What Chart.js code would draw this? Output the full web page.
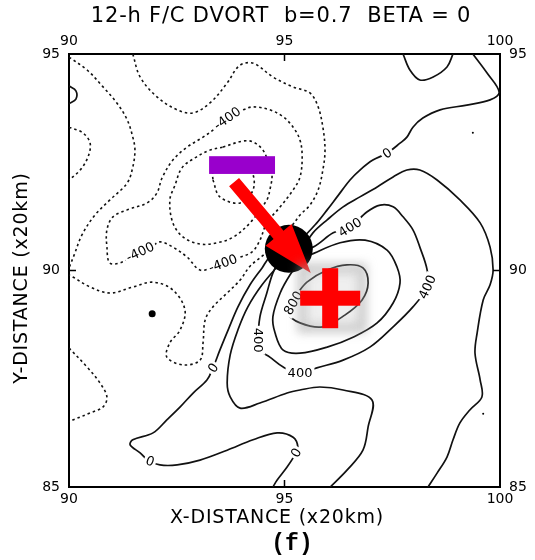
<!DOCTYPE html>
<html><head><meta charset="utf-8">
<script src="https://cdn.jsdelivr.net/npm/chart.js@4.4.1/dist/chart.umd.min.js"></script>
<style>html,body{margin:0;padding:0;background:#fff}canvas{display:block}</style>
</head><body>
<canvas id="c" width="535" height="560"></canvas>
<script>
// ---- axis ranges / ticks ----
const xRange = [90, 100];
const yRange = [85, 95];
const tickStep = 5;

// ---- dashed (negative) contours, [x, y] in grid units ----
const negLeftEdge = [[90.00,94.93],[90.42,94.63],[90.79,94.24],[91.11,93.87],[91.35,93.48],[91.48,93.08],[91.53,92.78],[91.48,92.39],[91.35,92.02],[90.95,91.63],[90.60,91.28],[90.30,90.82],[90.12,90.36],[90.00,90.06]];
const negBump = [[90.00,93.31],[90.32,93.18],[90.49,92.94],[90.44,92.62],[90.26,92.32],[90.00,92.09]];
const negLowerLeft = [[90.00,88.21],[90.42,87.77],[90.72,87.40],[90.88,87.08],[90.79,86.85],[90.49,86.71],[90.09,86.55],[90.00,86.52]];
const negOuter = [[91.48,95.00],[91.65,94.47],[92.04,94.01],[92.51,93.71],[92.88,93.64],[93.27,93.87],[93.67,94.33],[93.90,94.68],[94.08,94.79],[94.32,94.77],[94.73,94.47],[95.20,94.24],[95.59,94.10],[95.78,93.78],[95.89,93.31],[95.94,92.78],[95.89,92.32],[95.78,91.86],[95.59,91.51],[95.36,91.28],[95.13,90.98],[94.80,90.64],[94.48,90.33],[94.20,90.10],[93.97,89.78],[93.67,89.48],[93.34,89.16],[93.16,88.86],[93.11,88.33],[93.04,87.93],[92.65,87.82],[92.27,88.00],[92.34,88.33],[92.58,88.63],[92.69,89.09],[92.41,89.55],[91.95,89.73],[91.48,89.62],[90.95,89.48],[90.49,89.62],[90.09,89.85],[90.00,89.90]];
const neg400 = [[94.04,93.71],[94.27,93.78],[94.66,93.71],[94.97,93.55],[95.20,93.31],[95.36,93.01],[95.41,92.62],[95.36,92.16],[95.20,91.86],[94.90,91.47],[94.59,91.10],[94.43,90.70],[94.25,90.43],[93.97,90.31],[93.57,90.17],[93.34,90.08],[93.04,90.01],[92.74,90.31],[92.41,90.54],[92.11,90.66],[91.88,90.52],[91.65,90.43],[91.25,90.20],[90.95,90.17],[90.88,90.54],[90.88,90.94],[91.02,91.24],[91.35,91.40],[91.81,91.56],[92.04,91.79],[92.16,92.14],[92.41,92.55],[92.74,92.85],[93.11,93.08],[93.43,93.31],[93.67,93.52],[94.04,93.71]];
const neg800 = [[93.57,92.85],[94.04,92.99],[94.27,92.97],[94.50,92.78],[94.62,92.51],[94.71,92.21],[94.66,91.86],[94.59,91.63],[94.20,91.10],[93.81,90.77],[93.43,90.64],[93.04,90.61],[92.65,90.77],[92.41,91.10],[92.34,91.63],[92.46,91.97],[92.62,92.37],[92.92,92.60],[93.27,92.78],[93.57,92.85]];
const neg1200 = [[93.34,92.09],[93.50,91.70],[93.97,91.56],[94.27,91.86],[94.25,92.27],[93.97,92.55],[93.55,92.51],[93.34,92.27],[93.34,92.09]];

// ---- solid (zero / positive) contours ----
const posTiny = [[90.00,94.26],[90.16,94.15],[90.16,93.96],[90.00,93.85]];
const zeroMain = [[99.37,95.00],[99.70,94.56],[99.98,94.12],[99.77,93.94],[99.23,93.82],[98.61,93.71],[98.21,93.52],[97.98,93.31],[97.84,93.08],[97.68,92.94],[97.38,92.71],[97.05,92.55],[96.75,92.32],[96.52,92.09],[96.22,91.70],[95.99,91.40],[95.75,91.10],[95.36,90.70],[94.97,90.43],[94.66,90.31],[94.48,90.06],[94.20,89.67],[93.92,89.16],[93.71,88.67],[93.50,88.16],[93.34,87.75],[93.20,87.47],[92.88,87.17],[92.58,86.85],[92.27,86.55],[91.95,86.25],[91.48,86.09],[91.42,85.97],[91.65,85.79],[91.83,85.62],[92.11,85.51],[92.51,85.51],[93.04,85.62],[93.67,85.85],[94.27,86.09],[94.83,86.25],[95.20,86.15],[95.31,85.92],[95.24,85.74],[95.06,85.46],[94.83,85.16],[94.73,85.00]];
const zeroTop = [[97.75,95.00],[97.91,94.63],[98.14,94.40],[98.45,94.47],[98.77,94.70],[98.91,95.00]];
const posEast = [[95.48,90.59],[95.66,90.87],[95.99,91.17],[96.36,91.47],[96.75,91.70],[97.15,91.93],[97.52,92.16],[97.84,92.32],[98.14,92.32],[98.54,92.09],[99.07,91.63],[99.54,91.10],[99.77,90.54],[99.84,90.01],[99.77,89.67],[99.61,89.32],[99.47,88.56],[99.42,88.09],[99.54,87.47],[99.58,87.08],[99.30,86.78],[99.07,86.48],[98.91,86.09],[98.77,85.69],[98.54,85.32],[98.33,85.00]];
const posSouth = [[94.90,90.17],[94.48,89.67],[94.15,89.16],[93.92,88.63],[93.74,88.05],[93.67,87.40],[93.74,87.08],[93.97,86.82],[94.43,86.94],[95.06,87.17],[95.36,87.24],[95.82,87.31],[96.36,87.24],[97.03,87.01],[96.94,86.39],[96.82,85.85],[96.45,85.39],[96.06,85.00]];
const pos400 = [[95.24,90.47],[95.66,90.54],[96.13,90.87],[96.52,91.00],[96.91,91.35],[97.22,91.51],[97.52,91.47],[97.75,91.24],[97.98,90.94],[98.14,90.54],[98.31,90.01],[98.31,89.62],[97.98,89.16],[97.52,88.70],[96.98,88.23],[96.36,87.93],[95.75,87.75],[95.36,87.63],[94.97,87.77],[94.66,88.00],[94.43,88.16],[94.39,88.39],[94.43,88.93],[94.59,89.48],[94.73,89.94],[94.90,90.24],[95.24,90.47]];
const pos600 = [[95.59,90.36],[96.29,90.64],[96.87,90.70],[97.38,90.47],[97.61,90.08],[97.68,89.71],[97.52,89.25],[97.15,88.79],[96.59,88.46],[95.99,88.23],[95.36,88.09],[94.97,88.16],[94.78,88.56],[94.73,88.93],[94.90,89.48],[95.13,89.90],[95.36,90.20],[95.59,90.36]];
const pos800 = [[95.27,89.43],[95.52,89.73],[95.99,90.01],[96.45,90.13],[96.82,90.06],[96.94,89.71],[96.80,89.32],[96.40,88.97],[95.89,88.70],[95.36,88.79],[95.06,89.02],[95.06,89.25],[95.27,89.43]];

// ---- contour labels ----
const labelText = ['-400','-400','-400','0','400','400','400','400','800','0','0','0'];
const labelX = [93.67,91.65,93.57,97.38,96.52,98.31,95.36,94.39,95.20,93.34,91.88,95.27];
const labelY = [93.52,90.43,90.17,92.71,91.00,89.62,87.63,88.39,89.25,87.75,85.60,85.79];

// ---- isolated dots ----
const dotX = [91.93,99.61,99.37];
const dotY = [89.00,86.69,93.18];

// ---- overlay marks (grid units) ----
const minusBar = {x0:93.25, x1:94.78, y0:92.23, y1:92.64};
const arrowFrom = [93.83,92.04];
const arrowTo = [95.61,89.94];
const centerDot = [95.10,90.50];
const plusAt = [96.06,89.36];

// ===== styles =====
const labelAngle = [-35,-25,-20,-33,-32,-65,0,90,-60,-55,20,-60];
const dotRadius = [3.5,1,1];
const pts = a => a.map(p => ({x:p[0], y:p[1]}));
const dashedSets = [negLeftEdge,negBump,negLowerLeft,negOuter,neg400,neg800,neg1200];
const solidSets = [posTiny,zeroMain,zeroTop,posEast,posSouth,pos400,pos600,pos800];
const datasets = [];
dashedSets.forEach(a => datasets.push({data:pts(a), showLine:true, pointRadius:0, borderColor:'#111', borderWidth:1.6, borderDash:[2.5,3], tension:0.35, fill:false}));
solidSets.forEach(a => datasets.push({data:pts(a), showLine:true, pointRadius:0, borderColor:'#111', borderWidth:1.7, tension:0.35, fill:false}));
dotX.forEach((v,i) => datasets.push({data:[{x:v,y:dotY[i]}], showLine:false, pointRadius:dotRadius[i], pointBackgroundColor:'#000', pointBorderWidth:0}));

const FONT = '"DejaVu Sans", sans-serif';
Chart.defaults.font.family = FONT;

const deco = {
  id:'deco',
  afterDatasetsDraw(chart){
    const {ctx, scales:{x, y}} = chart;
    const px = v => x.getPixelForValue(v), py = v => y.getPixelForValue(v);
    const ca = chart.chartArea;
    ctx.save();
    // inward tick marks
    ctx.strokeStyle = '#000'; ctx.lineWidth = 1.5;
    ctx.beginPath();
    ctx.moveTo(px(95), ca.bottom); ctx.lineTo(px(95), ca.bottom-7);
    ctx.moveTo(px(95), ca.top); ctx.lineTo(px(95), ca.top+7);
    ctx.moveTo(ca.left, py(90)); ctx.lineTo(ca.left+7, py(90));
    ctx.moveTo(ca.right, py(90)); ctx.lineTo(ca.right-7, py(90));
    ctx.stroke();
    // contour labels
    ctx.font = '13px ' + FONT; ctx.textAlign = 'center'; ctx.textBaseline = 'middle';
    labelText.forEach((t,i) => {
      ctx.save();
      ctx.translate(px(labelX[i]), py(labelY[i]));
      ctx.rotate(labelAngle[i]*Math.PI/180);
      const w = ctx.measureText(t).width;
      ctx.fillStyle = '#fff'; ctx.fillRect(-w/2-2, -7, w+4, 14);
      ctx.fillStyle = '#000'; ctx.fillText(t, 0, 1);
      ctx.restore();
    });
    // purple minus bar
    ctx.fillStyle = '#9900cc';
    ctx.fillRect(px(minusBar.x0), py(minusBar.y1), px(minusBar.x1)-px(minusBar.x0), py(minusBar.y0)-py(minusBar.y1));
    // black circle
    ctx.fillStyle = '#000';
    ctx.beginPath(); ctx.arc(px(centerDot[0]), py(centerDot[1]), 24, 0, Math.PI*2); ctx.fill();
    // red arrow
    const ax = px(arrowFrom[0]), ay = py(arrowFrom[1]), bx = px(arrowTo[0]), by = py(arrowTo[1]);
    const L = Math.hypot(bx-ax, by-ay), ux = (bx-ax)/L, uy = (by-ay)/L, nx = -uy, ny = ux;
    const head = 50, hw = 17, sw = 6.5;
    const cx = bx-ux*head, cy = by-uy*head;
    ctx.fillStyle = '#ff0000';
    ctx.beginPath();
    ctx.moveTo(ax+nx*sw, ay+ny*sw); ctx.lineTo(cx+nx*sw, cy+ny*sw);
    ctx.lineTo(cx+nx*hw, cy+ny*hw); ctx.lineTo(bx, by);
    ctx.lineTo(cx-nx*hw, cy-ny*hw); ctx.lineTo(cx-nx*sw, cy-ny*sw);
    ctx.lineTo(ax-nx*sw, ay-ny*sw); ctx.closePath(); ctx.fill();
    // plus with soft grey halo
    const qx = px(plusAt[0]), qy = py(plusAt[1]);
    ctx.save();
    ctx.filter = 'blur(5px)';
    ctx.strokeStyle = 'rgba(150,150,150,0.45)';
    ctx.lineWidth = 10;
    ctx.strokeRect(qx-28, qy-30, 60, 60);
    ctx.fillStyle = 'rgba(190,190,190,0.25)';
    ctx.fillRect(qx-28, qy-30, 60, 60);
    ctx.restore();
    ctx.fillStyle = '#ff0000';
    ctx.fillRect(qx-8, qy-30, 16, 60);
    ctx.fillRect(qx-30, qy-7.5, 60, 15);
    ctx.restore();
  },
  afterDraw(chart){
    const ctx = chart.ctx;
    ctx.save();
    ctx.fillStyle = '#000'; ctx.textAlign = 'center'; ctx.textBaseline = 'middle';
    ctx.font = '21px ' + FONT; ctx.letterSpacing = '0.8px';
    ctx.fillText('12-h F/C DVORT  b=0.7  BETA = 0', 281, 17);
    ctx.font = '19px ' + FONT; ctx.letterSpacing = '0.8px';
    ctx.fillText('X-DISTANCE (x20km)', 277, 518);
    ctx.save(); ctx.translate(22, 278); ctx.rotate(-Math.PI/2);
    ctx.fillText('Y-DISTANCE (x20km)', 0, 0); ctx.restore();
    ctx.letterSpacing = '0px';
    ctx.font = 'bold 23px "Liberation Mono", monospace';
    ctx.fillText('(f)', 292, 544);
    ctx.restore();
  }
};

const axisCommon = (pos, range, fit) => ({
  type:'linear', position:pos, min:range[0], max:range[1],
  ticks:{stepSize:tickStep, autoSkip:false, maxRotation:0, color:'#000', font:{size:14}, padding:(pos==='left'||pos==='right')?9:4},
  grid:{display:false, drawTicks:false},
  border:{display:true, color:'#000', width:2},
  afterFit:fit
});

new Chart(document.getElementById('c'), {
  type:'scatter',
  data:{datasets},
  options:{
    responsive:false, animation:false, devicePixelRatio:1,
    layout:{padding:0},
    plugins:{legend:{display:false}, tooltip:{enabled:false}},
    scales:{
      x: axisCommon('bottom', xRange, s => { s.height = 73; }),
      x2: axisCommon('top', xRange, s => { s.height = 54; }),
      y: axisCommon('left', yRange, s => { s.width = 69; }),
      y2: axisCommon('right', yRange, s => { s.width = 35; })
    }
  },
  plugins:[deco]
});
</script>
</body></html>
